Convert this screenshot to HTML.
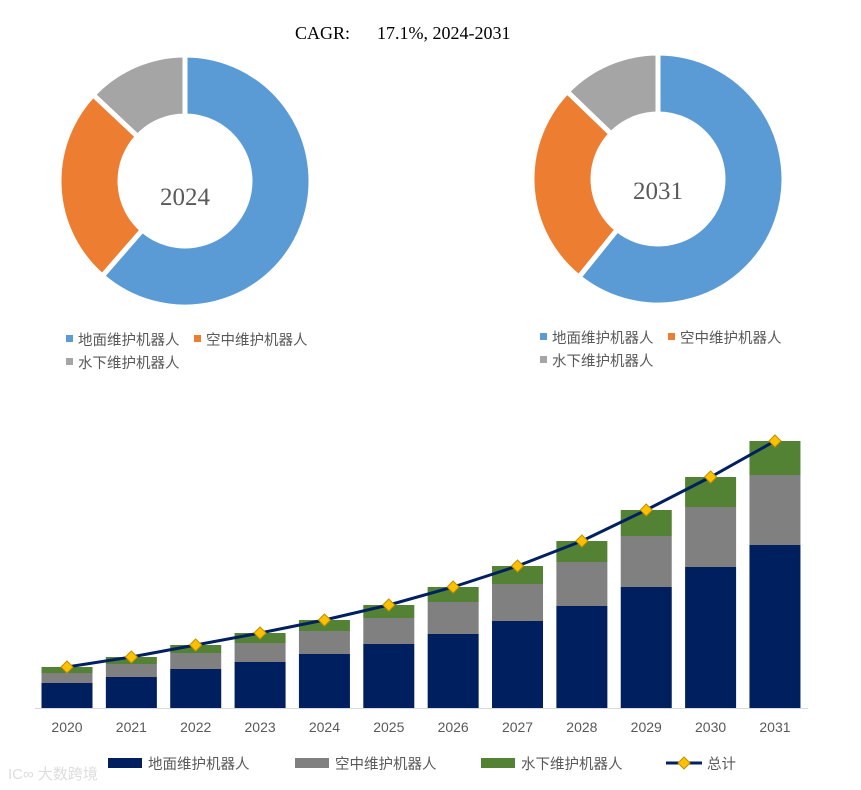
<!DOCTYPE html>
<html><head><meta charset="utf-8"><style>
body{margin:0;background:#fff;width:861px;height:790px;overflow:hidden;font-family:"Liberation Sans","Noto Sans CJK SC",sans-serif}
svg{display:block}
</style></head><body>
<svg id="s" width="861" height="790" xmlns="http://www.w3.org/2000/svg">
<text x="295" y="39" font-family="Liberation Serif,serif" font-size="18" fill="#000" xml:space="preserve">CAGR:      17.1%, 2024-2031</text>
<g id="donuts"></g>
<g id="bars"></g>
<line x1="35" y1="708.5" x2="808" y2="708.5" stroke="#d9d9d9" stroke-width="1"/>
<g id="xl"></g>
<g id="legend"></g>
<text x="8" y="779" font-size="15" fill="#ddd">IC∞ 大数跨境</text>
</svg>
<script>
const years=['2020','2021','2022','2023','2024','2025','2026','2027','2028','2029','2030','2031'];
const ground=[25,31,39,46,54,64,74,87,102,121,141,163];
const aerial=[10,13,16,19,23,26,32,37,44,51,60,70];
const underwater=[6,7,8,10,11,13,15,18,21,26,30,34];
const donut2024=[61.4,25.6,13];
const donut2031=[60.8,26.4,12.8];
const seriesNames=['地面维护机器人','空中维护机器人','水下维护机器人'];
const NS='http://www.w3.org/2000/svg';
function mk(t,a,p){const e=document.createElementNS(NS,t);for(const k in a)e.setAttribute(k,a[k]);p.appendChild(e);return e;}
const dcol=['#5b9bd5','#ed7d31','#a5a5a5'];
function donut(cx,cy,vals,label,nm,ly){
 const g=document.getElementById('donuts');const R=126,r=65;let a0=0;const tot=vals.reduce((a,b)=>a+b,0);
 vals.forEach((v,i)=>{const a1=a0+v/tot*2*Math.PI;
  const p=(rad,a)=>[cx+rad*Math.sin(a),cy-rad*Math.cos(a)];
  const [x1,y1]=p(R,a0),[x2,y2]=p(R,a1),[x3,y3]=p(r,a1),[x4,y4]=p(r,a0);const lg=(a1-a0)>Math.PI?1:0;
  const e=mk('path',{d:`M${x1},${y1}A${R},${R} 0 ${lg} 1 ${x2},${y2}L${x3},${y3}A${r},${r} 0 ${lg} 0 ${x4},${y4}Z`,fill:dcol[i],stroke:'#fff','stroke-width':5},g);
  
  
  a0=a1;});
 const t=mk('text',{x:cx,y:ly,'text-anchor':'middle','font-family':'Liberation Serif,serif','font-size':25,fill:'#595959'},g);t.textContent=label;
 
 
}
donut(185,181,donut2024,'2024','donut-2024',205);
donut(658,179,donut2031,'2031','donut-2031',199);
[[66,340],[540,338]].forEach(([lx,ly],k)=>{
 const g=document.getElementById('legend');
 const pos=[[lx,ly],[lx+128,ly],[lx,ly+23]];
 seriesNames.forEach((n,i)=>{const [x,y]=pos[i];
  const r=mk('rect',{x:x,y:y-5,width:7,height:7,fill:dcol[i]},g);
  
  
  const t=mk('text',{x:x+12,y:y+5,'font-size':14.5,fill:'#595959'},g);t.textContent=n;
  
  });
});
const base=708,x0=67,step=64.36,bw=51;
const yv=v=>base-v*1.0;
const xc=i=>x0+i*step;
const bg=document.getElementById('bars');
const bcol=['#001f5f','#808080','#548235'];
const tops=[];
years.forEach((yr,i)=>{let acc=0;[ground,aerial,underwater].forEach((s,k)=>{
 const r=mk('rect',{x:xc(i)-bw/2,y:yv(acc+s[i]),width:bw,height:s[i],fill:bcol[k]},bg);
 
 
 acc+=s[i];});tops.push(acc);
 const t=mk('text',{x:xc(i),y:732,'text-anchor':'middle','font-size':14,fill:'#595959'},document.getElementById('xl'));t.textContent=yr;
 
 
});
const pl=mk('polyline',{points:tops.map((v,i)=>xc(i)+','+yv(v)).join(' '),fill:'none',stroke:'#002060','stroke-width':3},bg);


tops.forEach((v,i)=>{const x=xc(i),y=yv(v);
 const d=mk('path',{d:`M${x},${y-6}L${x+6},${y}L${x},${y+6}L${x-6},${y}Z`,fill:'#ffc000',stroke:'#bf9000','stroke-width':1},bg);
 
 });
const lg=document.getElementById('legend');
const items=[[108,0],[295,1],[481,2]];
items.forEach(([x,k])=>{const r=mk('rect',{x:x,y:758,width:34,height:10,fill:bcol[k]},lg);
 
 
 const t=mk('text',{x:x+40,y:769,'font-size':14.5,fill:'#595959'},lg);t.textContent=seriesNames[k];
 
 });
const ll=mk('line',{x1:666,y1:763,x2:702,y2:763,stroke:'#002060','stroke-width':3},lg);


const lm=mk('path',{d:'M684,757L690,763L684,769L678,763Z',fill:'#ffc000',stroke:'#bf9000'},lg);


const lt=mk('text',{x:707,y:769,'font-size':14.5,fill:'#595959'},lg);lt.textContent='总计';


</script>
</body></html>
